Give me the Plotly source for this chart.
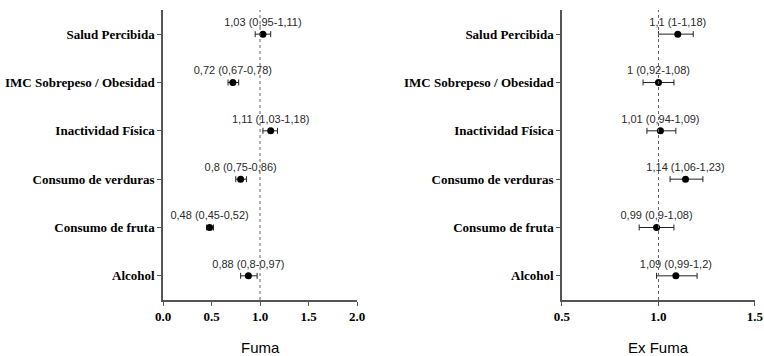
import plotly.graph_objects as go

categories = ["Salud Percibida", "IMC Sobrepeso / Obesidad", "Inactividad Física",
              "Consumo de verduras", "Consumo de fruta", "Alcohol"]

fuma_or = [1.03, 0.72, 1.11, 0.80, 0.48, 0.88]
fuma_lo = [0.95, 0.67, 1.03, 0.75, 0.45, 0.80]
fuma_hi = [1.11, 0.78, 1.18, 0.86, 0.52, 0.97]
fuma_labels = ["1,03 (0,95-1,11)", "0,72 (0,67-0,78)", "1,11 (1,03-1,18)",
               "0,8 (0,75-0,86)", "0,48 (0,45-0,52)", "0,88 (0,8-0,97)"]

exfuma_or = [1.10, 1.00, 1.01, 1.14, 0.99, 1.09]
exfuma_lo = [1.00, 0.92, 0.94, 1.06, 0.90, 0.99]
exfuma_hi = [1.18, 1.08, 1.09, 1.23, 1.08, 1.20]
exfuma_labels = ["1,1 (1-1,18)", "1 (0,92-1,08)", "1,01 (0,94-1,09)",
                 "1,14 (1,06-1,23)", "0,99 (0,9-1,08)", "1,09 (0,99-1,2)"]

fuma_ticks = [0.0, 0.5, 1.0, 1.5, 2.0]
exfuma_ticks = [0.5, 1.0, 1.5]

fig = go.Figure()

def add_panel(vals, lo, hi, labels, xa, ya):
    fig.add_trace(go.Scatter(
        x=vals, y=categories, mode="markers+text",
        text=labels, textposition="top center",
        textfont=dict(family="Liberation Sans, Arial", size=11, color="#2a2a2a"),
        marker=dict(color="black", size=7),
        error_x=dict(type="data", symmetric=False,
                     array=[h - v for h, v in zip(hi, vals)],
                     arrayminus=[v - l for v, l in zip(vals, lo)],
                     color="#222222", thickness=1, width=3),
        xaxis=xa, yaxis=ya, showlegend=False, cliponaxis=False))

add_panel(fuma_or, fuma_lo, fuma_hi, fuma_labels, "x", "y")
add_panel(exfuma_or, exfuma_lo, exfuma_hi, exfuma_labels, "x2", "y2")

tickfont = dict(family="Liberation Serif, Times New Roman", size=13, color="black")
axis_common = dict(showline=True, linecolor="#555555", linewidth=1.5, ticks="outside",
                   ticklen=4, tickcolor="#555555", showgrid=False, zeroline=False,
                   tickfont=tickfont, automargin=False)

title_font = dict(family="Liberation Sans, Arial", size=15, color="black")

fig.update_layout(
    width=764, height=356, margin=dict(l=0, r=0, t=0, b=0),
    plot_bgcolor="white", paper_bgcolor="white",
    xaxis=dict(domain=[0.2134, 0.4673], range=[0, 2], anchor="y",
               tickvals=fuma_ticks, ticktext=[f"<b>{t:.1f}</b>" for t in fuma_ticks],
               **axis_common),
    yaxis=dict(domain=[0.1573, 0.972], range=[5.5, -0.5], anchor="x",
               tickvals=categories, ticktext=[f"<b>{c}</b>" for c in categories],
               **axis_common),
    xaxis2=dict(domain=[0.7356, 0.9882], range=[0.5, 1.5], anchor="y2",
                tickvals=exfuma_ticks, ticktext=[f"<b>{t:.1f}</b>" for t in exfuma_ticks],
                **axis_common),
    yaxis2=dict(domain=[0.1573, 0.972], range=[5.5, -0.5], anchor="x2",
                tickvals=categories, ticktext=[f"<b>{c}</b>" for c in categories],
                **axis_common),
    shapes=[
        dict(type="line", xref="x", yref="y domain", x0=1, x1=1, y0=0, y1=1,
             line=dict(color="#666666", width=1, dash="dot")),
        dict(type="line", xref="x2", yref="y2 domain", x0=1, x1=1, y0=0, y1=1,
             line=dict(color="#666666", width=1, dash="dot")),
    ],
    annotations=[
        dict(text="Fuma", xref="x domain", yref="paper", x=0.5, y=0.0, yshift=-2,
             xanchor="center", yanchor="bottom", showarrow=False, font=title_font),
        dict(text="Ex Fuma", xref="x2 domain", yref="paper", x=0.5, y=0.0, yshift=-2,
             xanchor="center", yanchor="bottom", showarrow=False, font=title_font),
    ],
)

fig.write_html("out.html", config={"displayModeBar": False},
               post_script="document.body.style.margin='0';")
